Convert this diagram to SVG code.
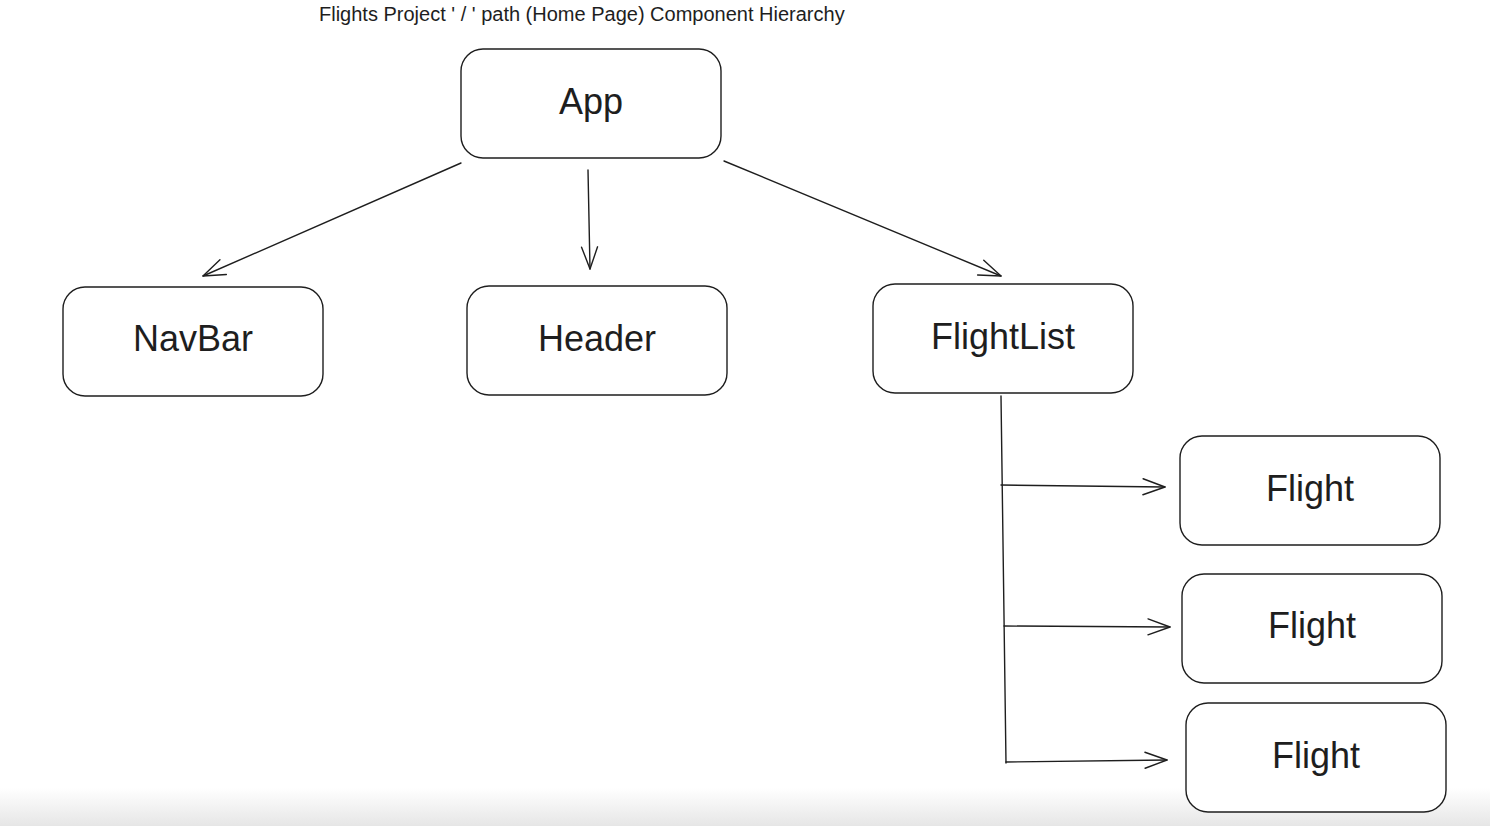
<svg xmlns="http://www.w3.org/2000/svg" width="1490" height="826" viewBox="0 0 1490 826">
<style>
.box{fill:#ffffff;stroke:#1e1e1e;stroke-width:1.4}
.lbl{font-family:"Liberation Sans",Arial,sans-serif;font-size:36px;fill:#1e1e1e;text-anchor:middle}
.title{font-family:"Liberation Sans",Arial,sans-serif;font-size:20px;fill:#1e1e1e}
.edge{fill:none;stroke:#1e1e1e;stroke-width:1.4;stroke-linecap:round}
</style>
<defs>
<marker id="arr" markerUnits="userSpaceOnUse" markerWidth="30" markerHeight="30" refX="0" refY="0" viewBox="-26 -12 30 24" orient="auto" overflow="visible">
<path d="M-22,-8 L0,0 L-22,8" fill="none" stroke="#1e1e1e" stroke-width="1.4" stroke-linecap="round" stroke-linejoin="round"/>
</marker>
<linearGradient id="bot" x1="0" y1="0" x2="0" y2="1">
<stop offset="0" stop-color="#ffffff"/>
<stop offset="1" stop-color="#e6e6e6"/>
</linearGradient>
</defs>
<rect x="0" y="0" width="1490" height="826" fill="#ffffff"/>
<rect x="0" y="788" width="1490" height="38" fill="url(#bot)"/>
<text class="title" x="319" y="21">Flights Project ' / ' path (Home Page) Component Hierarchy</text>
<g id="connectors">
<path class="edge" d="M461,163 L203,276" marker-end="url(#arr)"/>
<path class="edge" d="M588,170 L590,269" marker-end="url(#arr)"/>
<path class="edge" d="M724,161 L1001,276" marker-end="url(#arr)"/>
<path class="edge" d="M1001,396 L1006,763"/>
<path class="edge" d="M1001,485 L1165,487" marker-end="url(#arr)"/>
<path class="edge" d="M1004,626 L1170,627" marker-end="url(#arr)"/>
<path class="edge" d="M1006,762 L1167,760" marker-end="url(#arr)"/>
</g>
<g id="app"><rect class="box" x="461" y="49" width="260" height="109" rx="22"/><text class="lbl" x="591" y="114">App</text></g>
<g id="navbar"><rect class="box" x="63" y="287" width="260" height="109" rx="22"/><text class="lbl" x="193" y="351">NavBar</text></g>
<g id="header"><rect class="box" x="467" y="286" width="260" height="109" rx="22"/><text class="lbl" x="597" y="351">Header</text></g>
<g id="flightlist"><rect class="box" x="873" y="284" width="260" height="109" rx="22"/><text class="lbl" x="1003" y="349">FlightList</text></g>
<g id="flight1"><rect class="box" x="1180" y="436" width="260" height="109" rx="22"/><text class="lbl" x="1310" y="501">Flight</text></g>
<g id="flight2"><rect class="box" x="1182" y="574" width="260" height="109" rx="22"/><text class="lbl" x="1312" y="638">Flight</text></g>
<g id="flight3"><rect class="box" x="1186" y="703" width="260" height="109" rx="22"/><text class="lbl" x="1316" y="768">Flight</text></g>
</svg>
